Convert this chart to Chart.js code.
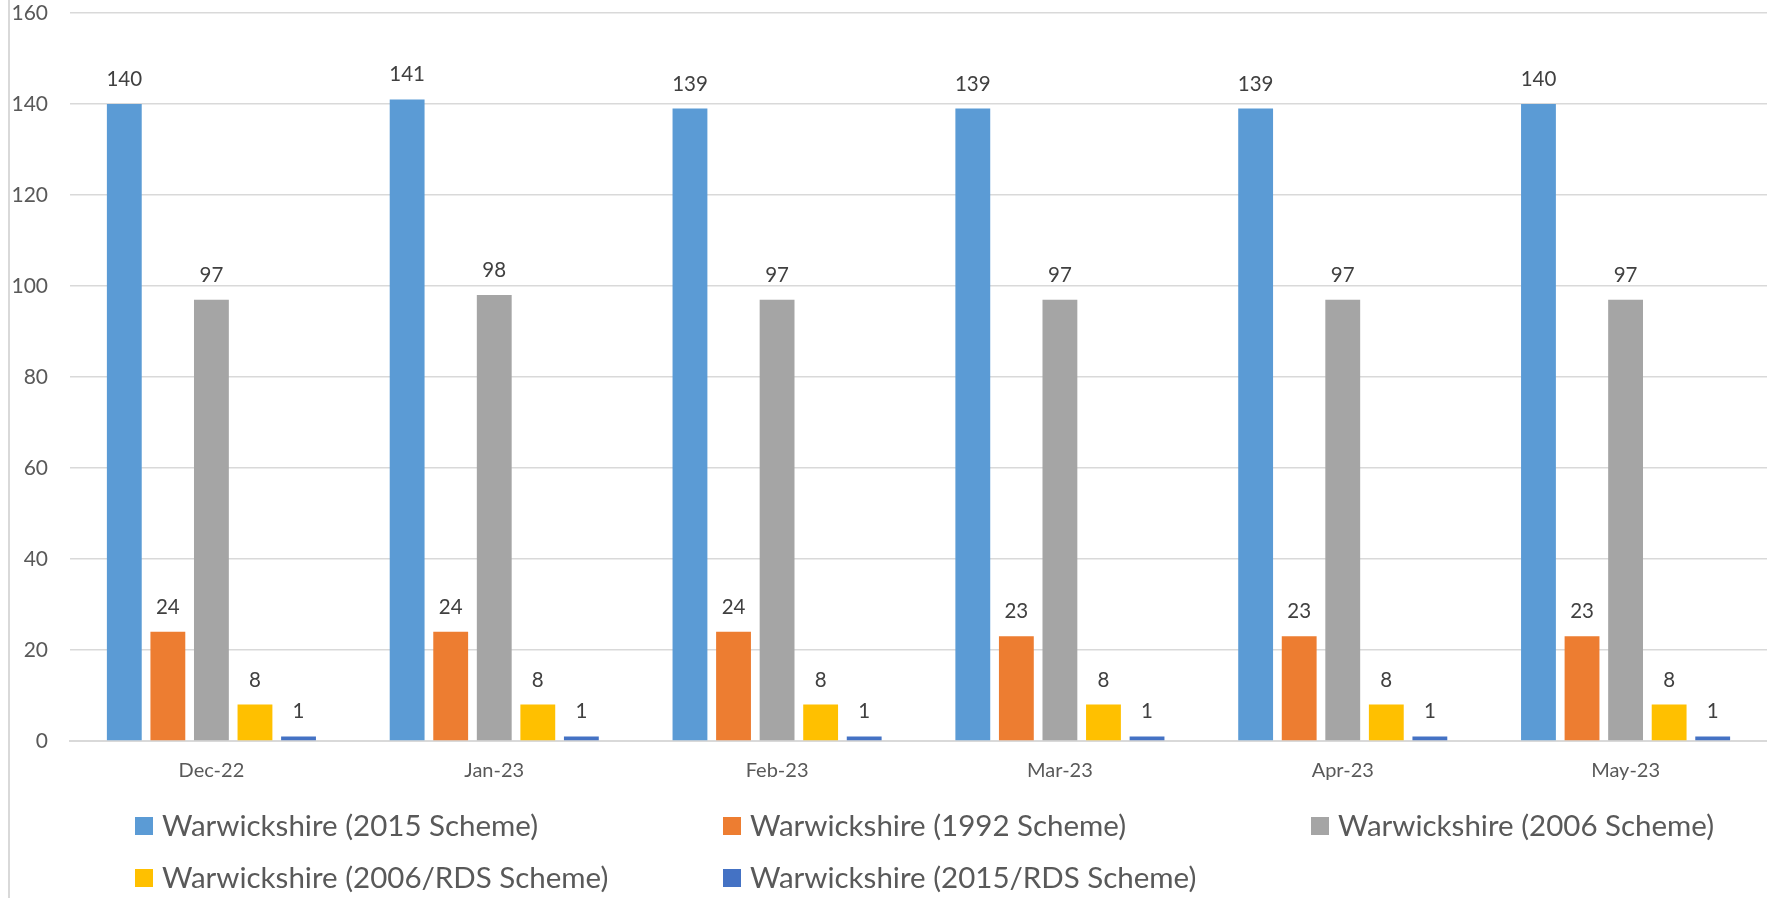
<!DOCTYPE html>
<html>
<head>
<meta charset="utf-8">
<script src="https://cdn.jsdelivr.net/npm/chart.js@4.4.1/dist/chart.umd.min.js"></script>
<style>
  html, body { margin: 0; padding: 0; background: #ffffff; }
  #wrap { position: relative; width: 1767px; height: 898px; }
  #wrap::before {
    content: ''; position: absolute; left: 8px; top: 0; bottom: 0;
    border-left: 2px solid #d9d9d9;
  }
</style>
</head>
<body>
<div id="wrap"><canvas id="chart"></canvas></div>
<script>
// Months on the x axis
const months = ['Dec-22', 'Jan-23', 'Feb-23', 'Mar-23', 'Apr-23', 'May-23'];

// Series values
const scheme2015 = [140, 141, 139, 139, 139, 140];
const scheme1992 = [24, 24, 24, 23, 23, 23];
const scheme2006 = [97, 98, 97, 97, 97, 97];
const scheme2006Rds = [8, 8, 8, 8, 8, 8];
const scheme2015Rds = [1, 1, 1, 1, 1, 1];

const seriesNames = [
  'Warwickshire (2015 Scheme)',
  'Warwickshire (1992 Scheme)',
  'Warwickshire (2006 Scheme)',
  'Warwickshire (2006/RDS Scheme)',
  'Warwickshire (2015/RDS Scheme)',
];
const seriesColors = ['#5B9BD5', '#ED7D31', '#A5A5A5', '#FFC000', '#4472C4'];
const seriesValues = [scheme2015, scheme1992, scheme2006, scheme2006Rds, scheme2015Rds];

const FONT = 'Lato, "Open Sans", sans-serif';

// Value labels above each bar
const valueLabels = {
  id: 'valueLabels',
  afterDatasetsDraw(chart) {
    const ctx = chart.ctx;
    ctx.save();
    ctx.font = `20.5px ${FONT}`;
    ctx.fillStyle = '#404040';
    ctx.textAlign = 'center';
    ctx.textBaseline = 'alphabetic';
    chart.data.datasets.forEach((ds, i) => {
      chart.getDatasetMeta(i).data.forEach((bar, j) => {
        ctx.fillText(String(ds.data[j]), bar.x, bar.y - 18);
      });
    });
    ctx.restore();
  },
};

// Excel-style legend laid out in three columns
const gridLegend = {
  id: 'gridLegend',
  afterDraw(chart) {
    const ctx = chart.ctx;
    const left = 135;
    const colW = 588;
    const rowY = [chart.chartArea.bottom + 85, chart.chartArea.bottom + 137];
    ctx.save();
    ctx.font = `29.5px ${FONT}`;
    ctx.textBaseline = 'middle';
    ctx.textAlign = 'left';
    chart.data.datasets.forEach((ds, i) => {
      const col = i % 3;
      const row = Math.floor(i / 3);
      const x = left + col * colW;
      const y = rowY[row];
      ctx.fillStyle = ds.backgroundColor;
      ctx.fillRect(x, y - 9, 18, 18);
      ctx.fillStyle = '#595959';
      ctx.fillText(ds.label, x + 27, y);
    });
    ctx.restore();
  },
};

new Chart(document.getElementById('chart'), {
  type: 'bar',
  data: {
    labels: months,
    datasets: seriesNames.map((name, i) => ({
      label: name,
      data: seriesValues[i],
      backgroundColor: seriesColors[i],
      borderWidth: 0,
      categoryPercentage: 0.77,
      barPercentage: 0.8,
    })),
  },
  options: {
    responsive: true,
    maintainAspectRatio: false,
    devicePixelRatio: 1,
    animation: false,
    layout: {
      padding: { top: 13, right: 0, bottom: 107, left: 0 },
    },
    scales: {
      x: {
        grid: { display: false, drawTicks: false },
        border: { color: '#d9d9d9', width: 2 },
        ticks: {
          color: '#595959',
          font: { family: FONT, size: 20 },
          padding: 18,
        },
        afterFit: (scale) => { scale.height = 50; },
      },
      y: {
        min: 0,
        max: 160,
        grid: { color: '#d9d9d9', lineWidth: 1.5, drawTicks: false },
        border: { display: false },
        ticks: {
          stepSize: 20,
          color: '#595959',
          font: { family: FONT, size: 21 },
          padding: 22,
        },
        afterFit: (scale) => {
          scale.width = 70;
          scale.paddingTop = 0;
          scale.paddingBottom = 0;
        },
      },
    },
    plugins: {
      legend: { display: false },
      tooltip: { enabled: false },
    },
  },
  plugins: [valueLabels, gridLegend],
});
</script>
</body>
</html>
